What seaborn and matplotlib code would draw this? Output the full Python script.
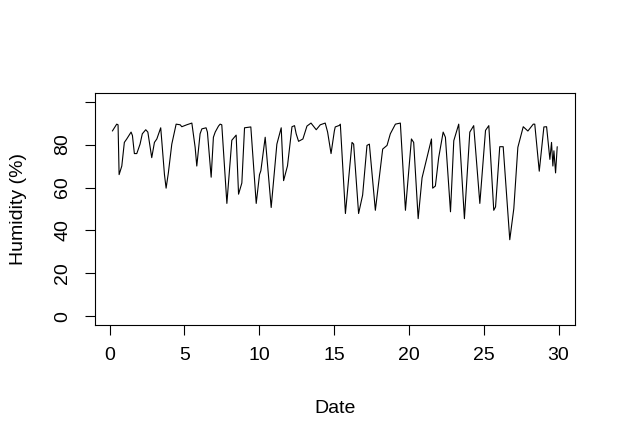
import pandas as pd
import matplotlib
matplotlib.use("Agg")
import matplotlib.pyplot as plt
import seaborn as sns

# -------- humidity trace (day, %) --------
days = [0.19, 0.48, 0.57, 0.64, 0.82, 0.99, 1.15, 1.44, 1.53, 1.66,
        1.82, 2.04, 2.19, 2.42, 2.56, 2.82, 3.00, 3.16, 3.42, 3.49,
        3.67, 3.78, 3.93, 4.16, 4.45, 4.72, 4.83, 5.16, 5.50, 5.72,
        5.83, 6.05, 6.17, 6.45, 6.54, 6.79, 6.94, 7.06, 7.28, 7.39,
        7.50, 7.84, 8.17, 8.46, 8.62, 8.84, 9.02, 9.44, 9.80, 10.02,
        10.11, 10.40, 10.80, 11.18, 11.47, 11.63, 11.89, 12.19, 12.36, 12.47,
        12.63, 12.92, 13.19, 13.46, 13.81, 14.08, 14.41, 14.57, 14.80, 15.02,
        15.08, 15.35, 15.42, 15.76, 16.20, 16.31, 16.64, 16.91, 17.20, 17.36,
        17.76, 18.25, 18.54, 18.76, 19.10, 19.43, 19.77, 20.17, 20.32, 20.62,
        20.88, 21.51, 21.59, 21.77, 21.99, 22.29, 22.44, 22.78, 23.00, 23.33,
        23.71, 24.07, 24.33, 24.74, 25.12, 25.34, 25.67, 25.79, 26.07, 26.30,
        26.74, 27.01, 27.28, 27.64, 27.95, 28.31, 28.41, 28.71, 29.02, 29.20,
        29.42, 29.53, 29.62, 29.69, 29.80, 29.91]

humidity = [86.3, 89.5, 89.2, 66.0, 70.0, 81.0, 82.6, 85.8, 84.2, 75.8,
            75.8, 80.2, 85.0, 86.9, 85.8, 73.9, 81.0, 82.6, 87.8, 81.8,
            66.0, 59.7, 66.8, 80.2, 89.5, 89.2, 88.3, 89.2, 90.0, 78.7,
            70.0, 85.0, 87.3, 87.8, 85.8, 64.8, 83.4, 85.8, 88.6, 89.5,
            89.2, 52.6, 82.0, 84.4, 56.9, 62.1, 87.8, 88.2, 52.6, 66.0,
            67.8, 83.4, 50.7, 80.2, 87.8, 63.2, 70.1, 88.3, 88.8, 85.0,
            81.5, 82.6, 88.6, 90.0, 86.9, 89.2, 90.0, 85.8, 75.8, 86.3,
            88.2, 88.9, 89.5, 47.9, 81.0, 80.2, 47.9, 56.5, 79.6, 80.2,
            49.4, 77.9, 79.6, 85.0, 89.5, 90.0, 49.4, 82.6, 81.0, 45.5,
            64.5, 82.6, 59.7, 60.7, 73.9, 85.8, 83.4, 48.7, 81.8, 89.5,
            45.5, 85.8, 88.8, 52.6, 86.6, 88.8, 49.4, 51.0, 79.0, 79.0,
            35.7, 50.2, 78.7, 88.3, 86.3, 89.5, 89.5, 67.6, 88.2, 88.3,
            73.1, 81.0, 70.0, 77.1, 66.8, 79.0]

x_ticks = [0, 5, 10, 15, 20, 25, 30]
y_ticks = [0, 20, 40, 60, 80, 100]
y_tick_labels = ["0", "20", "40", "60", "80", ""]

df = pd.DataFrame({"Date": days, "Humidity": humidity})

sns.set_style("white")
plt.rcParams["font.family"] = ["Liberation Sans", "DejaVu Sans"]
plt.rcParams["text.color"] = "black"
plt.rcParams["axes.labelcolor"] = "black"

fig = plt.figure(figsize=(6.23, 4.42), dpi=100)
ax = fig.add_axes([0.1525, 0.2647, 0.7705, 0.5249])

sns.lineplot(data=df, x="Date", y="Humidity", color="black", linewidth=0.8,
             sort=False, estimator=None, ax=ax)

ax.set_xlim(-0.97, 31.1)
ax.set_ylim(-4, 104)
ax.set_xticks(x_ticks)
ax.set_xticklabels([str(t) for t in x_ticks])
ax.set_yticks(y_ticks)
ax.set_yticklabels(y_tick_labels)

for sp in ax.spines.values():
    sp.set_visible(True)
    sp.set_color("black")
    sp.set_linewidth(0.8)

ax.tick_params(axis="both", which="major", direction="out", length=7,
               width=0.8, color="black", labelsize=14, labelcolor="black",
               bottom=True, left=True)
ax.tick_params(axis="x", pad=9)
ax.tick_params(axis="y", pad=10)
plt.setp(ax.get_yticklabels(), rotation=90, va="center")

ax.set_xlabel("Date", fontsize=14, labelpad=26, color="black")
ax.set_ylabel("Humidity (%)", fontsize=14, labelpad=20, color="black")

fig.savefig("out.png", dpi=100)
